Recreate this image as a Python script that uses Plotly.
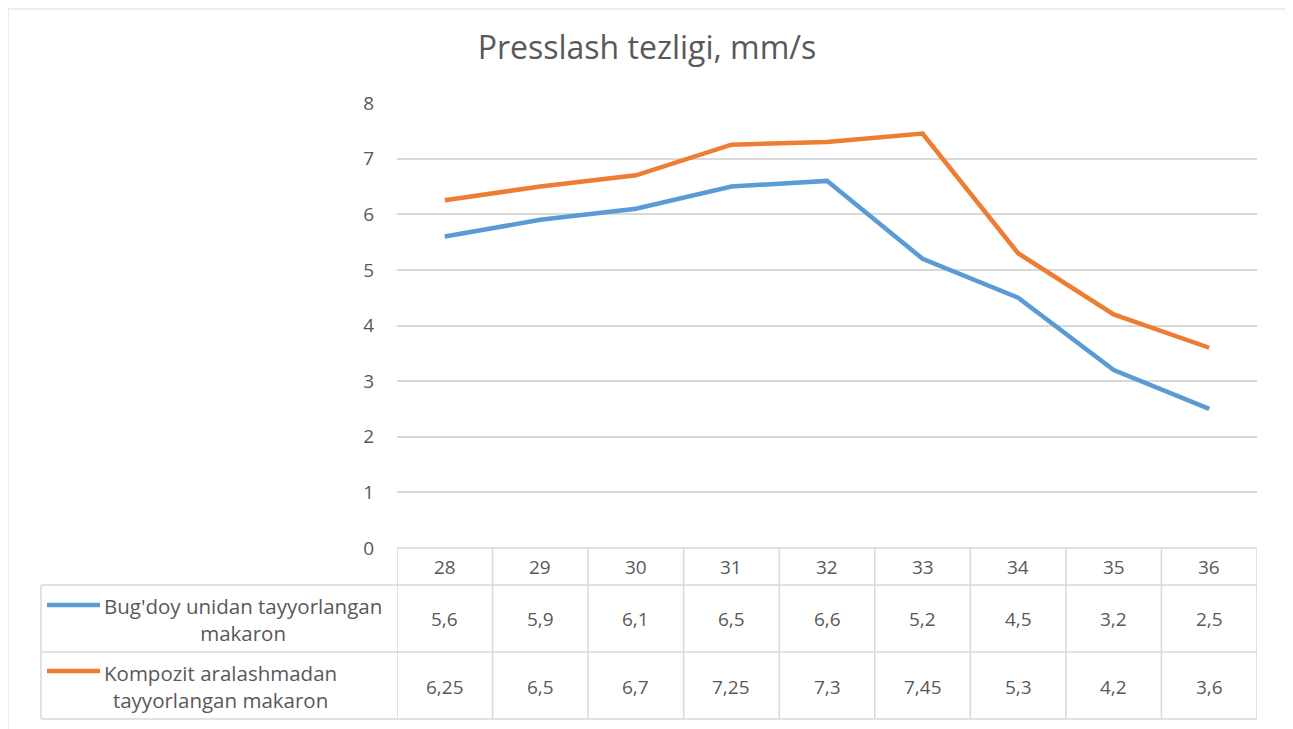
import plotly.graph_objects as go

categories = [28, 29, 30, 31, 32, 33, 34, 35, 36]
series1_name = "Bug'doy unidan tayyorlangan<br>makaron"
series2_name = "Kompozit aralashmadan<br>tayyorlangan makaron"
series1 = [5.6, 5.9, 6.1, 6.5, 6.6, 5.2, 4.5, 3.2, 2.5]
series2 = [6.25, 6.5, 6.7, 7.25, 7.3, 7.45, 5.3, 4.2, 3.6]
y_ticks = [0, 1, 2, 3, 4, 5, 6, 7, 8]
title = "Presslash tezligi, mm/s"

OX, OY = 8, 8          # page offset of the figure div
PW, PH = 1293, 729     # page size
W, H = PW - OX, PH - OY
L, R, T, B = 397, 1257, 103, 548   # plot area in page pixels
pw, ph = R - L, B - T

def px(x):
    return (x - L) / pw

def py(y):
    return (B - y) / ph

FONT = "Open Sans"
TXT = "#595959"
GRID = "#d9d9d9"
C1, C2 = "#5B9BD5", "#ED7D31"

def fmt(v):
    return str(v).replace(".", ",")

fig = go.Figure()
fig.add_trace(go.Scatter(x=categories, y=series1, mode="lines",
                         line=dict(color=C1, width=4.5), showlegend=False))
fig.add_trace(go.Scatter(x=categories, y=series2, mode="lines",
                         line=dict(color=C2, width=4.5), showlegend=False))

shapes = []
annotations = []

# outer chart border
shapes.append(dict(type="rect", xref="paper", yref="paper",
                   x0=px(8), x1=px(1287), y0=py(745), y1=py(9),
                   line=dict(color=GRID, width=1), fillcolor="rgba(0,0,0,0)", layer="below"))

row_y = [548, 585, 652, 719]
shapes.append(dict(type="line", xref="paper", yref="paper", x0=0, x1=1,
                   y0=py(548), y1=py(548), line=dict(color=GRID, width=1.5)))
for yy in row_y[1:]:
    shapes.append(dict(type="line", xref="paper", yref="paper", x0=px(41), x1=1,
                       y0=py(yy), y1=py(yy), line=dict(color=GRID, width=1.5)))
lo, hi = categories[0] - 0.5, categories[-1] + 0.5
for i in range(len(categories) + 1):
    xv = categories[0] - 0.5 + i
    shapes.append(dict(type="line", xref="x", yref="paper", x0=xv, x1=xv,
                       y0=py(719), y1=py(548), line=dict(color=GRID, width=1.5)))
shapes.append(dict(type="line", xref="paper", yref="paper", x0=px(41), x1=px(41),
                   y0=py(719), y1=py(585), line=dict(color=GRID, width=1.5)))

NUM = dict(family=FONT, size=19, color=TXT)
for c in categories:
    annotations.append(dict(x=c, y=py(567), xref="x", yref="paper", text=str(c),
                            xanchor="center", yanchor="middle", showarrow=False, font=NUM))
for vals, ycen in [(series1, 619), (series2, 687)]:
    for c, v in zip(categories, vals):
        annotations.append(dict(x=c, y=py(ycen), xref="x", yref="paper", text=fmt(v),
                                xanchor="center", yanchor="middle", showarrow=False, font=NUM))

for name, col, ycen, keyy in [(series1_name, C1, 619, 605), (series2_name, C2, 686, 671)]:
    shapes.append(dict(type="line", xref="paper", yref="paper", x0=px(47), x1=px(100),
                       y0=py(keyy), y1=py(keyy), line=dict(color=col, width=4.5)))
    annotations.append(dict(x=px(102), y=py(ycen), xref="paper", yref="paper", text=name,
                            xanchor="left", yanchor="middle", align="center", showarrow=False,
                            font=dict(family=FONT, size=20.5, color=TXT)))

fig.update_layout(
    width=W, height=H,
    margin=dict(l=L - OX, r=PW - R, t=T - OY, b=PH - B),
    paper_bgcolor="white", plot_bgcolor="white",
    title=dict(text=title, xref="container", x=(647 - OX) / W, xanchor="center",
               yref="container", y=1 - (48 - OY) / H, yanchor="middle",
               font=dict(family=FONT, size=32, color=TXT)),
    xaxis=dict(range=[lo, hi], showgrid=False, showticklabels=False, ticks="",
               zeroline=False, showline=False),
    yaxis=dict(range=[0, 8], tickvals=y_ticks, showgrid=True, gridcolor=GRID, gridwidth=1.5,
               zeroline=False, showline=False, ticks="", ticklabelstandoff=22,
               tickfont=dict(family=FONT, size=19, color=TXT)),
    shapes=shapes, annotations=annotations,
)

fig.write_html("out.html")
